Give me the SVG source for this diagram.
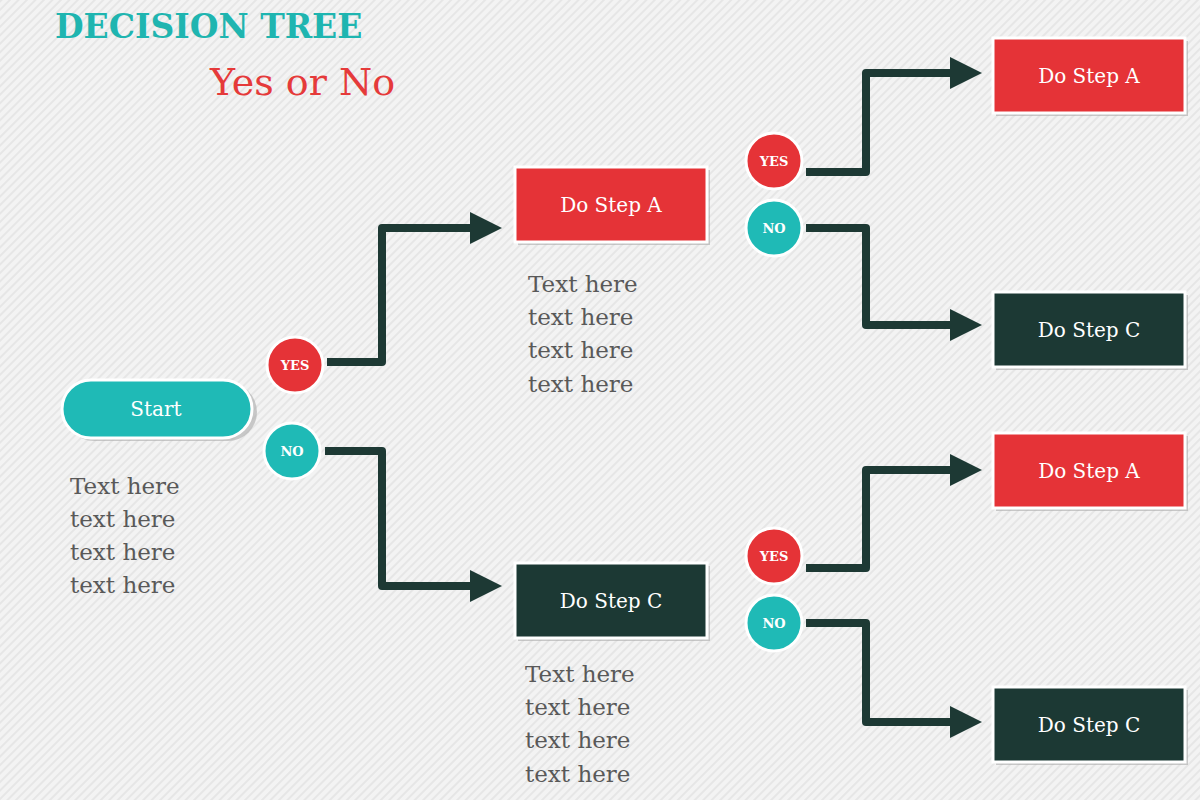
<svg xmlns="http://www.w3.org/2000/svg" width="1200" height="800" viewBox="0 0 1200 800">
<defs>
<pattern id="bg" width="6" height="6" patternUnits="userSpaceOnUse" patternTransform="rotate(45)">
<rect width="6" height="6" fill="#f3f3f3"/><rect width="2" height="6" fill="#e6e6e6"/>
</pattern>
<marker id="ar" markerWidth="4" markerHeight="4" refX="1" refY="2" orient="auto" markerUnits="strokeWidth">
<path d="M0,0 L4,2 L0,4 Z" fill="#1d3934"/>
</marker>
</defs>
<style>
.t{font-family:"DejaVu Serif","Liberation Serif",serif}
.box{stroke:#fff;stroke-width:3}
.red{fill:#e53337}.dark{fill:#1c3934}.teal{fill:#1fbab6}
.bl{fill:#fff;font-size:20px;text-anchor:middle;font-family:"DejaVu Serif",serif}
.cl{fill:#fff;font-size:13px;font-weight:bold;text-anchor:middle;font-family:"DejaVu Serif",serif}
.body{fill:#595959;font-size:23px;font-family:"DejaVu Serif",serif}
.c{fill:none;stroke:#1d3934;stroke-width:8;stroke-linejoin:round}
.sh{fill:#aaa;opacity:.6}
</style>
<rect width="1200" height="800" fill="url(#bg)"/>
<text class="t" x="55" y="38" font-size="33" font-weight="bold" fill="#1fb5b0">DECISION TREE</text>
<text class="t" x="210" y="95" font-size="38" fill="#e53a3a">Yes or No</text>
<g id="connectors">
<path class="c" d="M327,362 H382 V228 H478" marker-end="url(#ar)"/>
<path class="c" d="M325,451 H382 V586 H478" marker-end="url(#ar)"/>
<path class="c" d="M806,172 H866 V73 H958" marker-end="url(#ar)"/>
<path class="c" d="M806,228 H866 V325 H958" marker-end="url(#ar)"/>
<path class="c" d="M806,568 H866 V470 H958" marker-end="url(#ar)"/>
<path class="c" d="M806,623 H866 V722 H958" marker-end="url(#ar)"/>
</g>
<g id="start">
<rect class="sh" x="65" y="383" width="192" height="58" rx="29"/>
<rect class="teal box" x="62" y="380" width="190" height="58" rx="29"/>
<text class="bl" x="156" y="416">Start</text>
</g>
<g id="start-text" class="body"><text x="70" y="494">Text here</text><text x="70" y="527">text here</text><text x="70" y="560">text here</text><text x="70" y="593">text here</text></g>
<g id="yes1"><circle class="red box" cx="295" cy="365" r="28"/><text class="cl" x="295" y="370">YES</text></g>
<g id="no1"><circle class="teal box" cx="292" cy="451" r="28"/><text class="cl" x="292" y="456">NO</text></g>
<g id="a1"><rect class="sh" x="518" y="170" width="192" height="75"/><rect class="red box" x="515" y="167" width="192" height="75"/><text class="bl" x="611" y="212">Do Step A</text></g>
<g id="a1-text" class="body"><text x="528" y="292">Text here</text><text x="528" y="325">text here</text><text x="528" y="358">text here</text><text x="528" y="392">text here</text></g>
<g id="c1"><rect class="sh" x="518" y="566" width="192" height="75"/><rect class="dark box" x="515" y="563" width="192" height="75"/><text class="bl" x="611" y="608">Do Step C</text></g>
<g id="c1-text" class="body"><text x="525" y="682">Text here</text><text x="525" y="715">text here</text><text x="525" y="748">text here</text><text x="525" y="782">text here</text></g>
<g id="yes2"><circle class="red box" cx="774" cy="161" r="28"/><text class="cl" x="774" y="166">YES</text></g>
<g id="no2"><circle class="teal box" cx="774" cy="228" r="28"/><text class="cl" x="774" y="233">NO</text></g>
<g id="yes3"><circle class="red box" cx="774" cy="556" r="28"/><text class="cl" x="774" y="561">YES</text></g>
<g id="no3"><circle class="teal box" cx="774" cy="623" r="28"/><text class="cl" x="774" y="628">NO</text></g>
<g id="a2"><rect class="sh" x="996" y="41" width="192" height="75"/><rect class="red box" x="993" y="38" width="192" height="75"/><text class="bl" x="1089" y="83">Do Step A</text></g>
<g id="c2"><rect class="sh" x="996" y="295" width="192" height="75"/><rect class="dark box" x="993" y="292" width="192" height="75"/><text class="bl" x="1089" y="337">Do Step C</text></g>
<g id="a3"><rect class="sh" x="996" y="436" width="192" height="75"/><rect class="red box" x="993" y="433" width="192" height="75"/><text class="bl" x="1089" y="478">Do Step A</text></g>
<g id="c3"><rect class="sh" x="996" y="690" width="192" height="75"/><rect class="dark box" x="993" y="687" width="192" height="75"/><text class="bl" x="1089" y="732">Do Step C</text></g>
</svg>
